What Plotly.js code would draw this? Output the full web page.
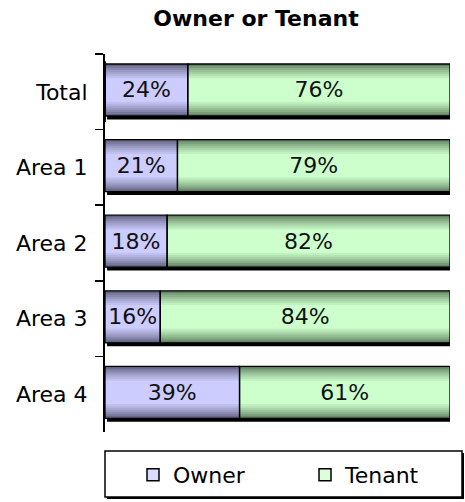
<!DOCTYPE html>
<html>
<head>
<meta charset="utf-8">
<script src="https://cdn.plot.ly/plotly-3.0.1.min.js"></script>
<style>html,body{margin:0;padding:0;background:#fff;}#chart{width:465px;height:502px;}</style>
</head>
<body>
<div id="chart"></div>
<script>
// ---- data ----
const categories = ['Total', 'Area 1', 'Area 2', 'Area 3', 'Area 4'];
const owner = [24, 21, 18, 16, 39];
const tenant = [76, 79, 82, 84, 61];
const seriesNames = ['Owner', 'Tenant'];

// ---- styles ----
const FONT = 'DejaVu Sans, Verdana, sans-serif';
const ownerDark = [98, 98, 130], ownerLight = [204, 204, 255];
const tenantDark = [98, 130, 98], tenantLight = [204, 255, 204];
const NL = 8;                 // gradient layers
const BAR_W = 0.688;          // full bar thickness (category units)
const BAR_C = -0.024;         // bar centre offset
const SH_X = 0.6, SH_Y = 0.045;

function mix(a, b, t) {
  return 'rgb(' + a.map((v, i) => Math.round(v + (b[i] - v) * t)).join(',') + ')';
}

const ownerBase = owner.map(() => 0);
const tenantBase = owner.slice();
const totals = owner.map((v, i) => v + tenant[i]);

const traces = [];

// shadow
traces.push({
  type: 'bar', orientation: 'h', y: categories, x: totals,
  base: owner.map(() => SH_X), width: BAR_W, offset: BAR_C - BAR_W / 2 + SH_Y,
  marker: {color: '#000', line: {width: 0}}, showlegend: false, hoverinfo: 'skip'
});

function addSeries(vals, base, dark, light) {
  for (let k = 0; k < NL; k++) {
    const w = BAR_W * (1 - k * 0.55 / (NL - 1));
    traces.push({
      type: 'bar', orientation: 'h', y: categories, x: vals, base: base,
      width: w, offset: BAR_C - w / 2,
      marker: {color: mix(dark, light, Math.pow(k / (NL - 1), 0.8)),
               line: {width: 0}},
      showlegend: false, hoverinfo: 'skip'
    });
  }
}
addSeries(owner, ownerBase, ownerDark, ownerLight);
addSeries(tenant, tenantBase, tenantDark, tenantLight);

// outlines and value labels on top
[[owner, ownerBase], [tenant, tenantBase]].forEach(([vals, base]) => {
  traces.push({
    type: 'bar', orientation: 'h', y: categories, x: vals, base: base,
    width: BAR_W, offset: BAR_C - BAR_W / 2,
    marker: {color: 'rgba(0,0,0,0)', line: {width: 1.3, color: '#000'}},
    text: vals.map(v => v + '%'), textposition: 'inside', insidetextanchor: 'middle',
    textangle: 0, constraintext: 'none',
    textfont: {family: FONT, size: 22, color: '#111'},
    showlegend: false, hoverinfo: 'skip'
  });
});

// legend entries (one legend each so they sit side by side)
[[seriesNames[0], ownerLight, 'legend'], [seriesNames[1], tenantLight, 'legend2']].forEach(([nm, col, lg]) => {
  traces.push({
    type: 'bar', orientation: 'h', y: [categories[0]], x: [0], base: [0],
    name: nm, legend: lg,
    marker: {color: mix(col, [255, 255, 255], 0.3), line: {width: 1.5, color: '#000'}},
    showlegend: true, hoverinfo: 'skip'
  });
});

// legend box in paper coords (plot: x 105..450, y 54..432)
const PW = 345, PH = 378;
const px = v => (v - 105) / PW;
const py = v => (432 - v) / PH;

const legendBase = {
  orientation: 'h', xref: 'container', yref: 'container',
  xanchor: 'left', y: 1 - 475 / 502, yanchor: 'middle',
  bgcolor: 'rgba(0,0,0,0)', borderwidth: 0,
  font: {family: FONT, size: 22, color: '#000'}
};

const layout = {
  width: 465, height: 502,
  margin: {l: 105, r: 15, t: 54, b: 70, pad: 0, autoexpand: false},
  paper_bgcolor: '#fff', plot_bgcolor: '#fff',
  barmode: 'overlay',
  showlegend: true,
  title: {
    text: 'Owner or Tenant',
    font: {family: FONT, size: 22, color: '#000', weight: 'bold'},
    xref: 'container', x: 256 / 465, xanchor: 'center',
    yref: 'container', y: 1 - 18 / 502, yanchor: 'middle'
  },
  xaxis: {range: [0, 100], visible: false, fixedrange: true},
  yaxis: {
    type: 'category', categoryorder: 'array', categoryarray: categories,
    range: [categories.length - 0.5, -0.5],
    showline: true, linecolor: '#000', linewidth: 2,
    ticks: 'outside', ticklen: 8, tickwidth: 1.5, tickcolor: '#000',
    tickson: 'boundaries', showgrid: false, zeroline: false,
    ticklabelstandoff: 11,
    tickfont: {family: FONT, size: 22, color: '#000'}
  },
  legend: Object.assign({}, legendBase, {x: 133 / 465}),
  legend2: Object.assign({}, legendBase, {x: 305 / 465}),
  shapes: [
    {type: 'rect', xref: 'paper', yref: 'paper', layer: 'below',
     x0: px(107), x1: px(464), y0: py(453), y1: py(499),
     fillcolor: '#000', line: {width: 0}},
    {type: 'rect', xref: 'paper', yref: 'paper', layer: 'below',
     x0: px(105), x1: px(462), y0: py(451), y1: py(497),
     fillcolor: '#fff', line: {width: 1.5, color: '#000'}}
  ]
};

Plotly.newPlot('chart', traces, layout, {displayModeBar: false, staticPlot: true});
</script>
</body>
</html>
